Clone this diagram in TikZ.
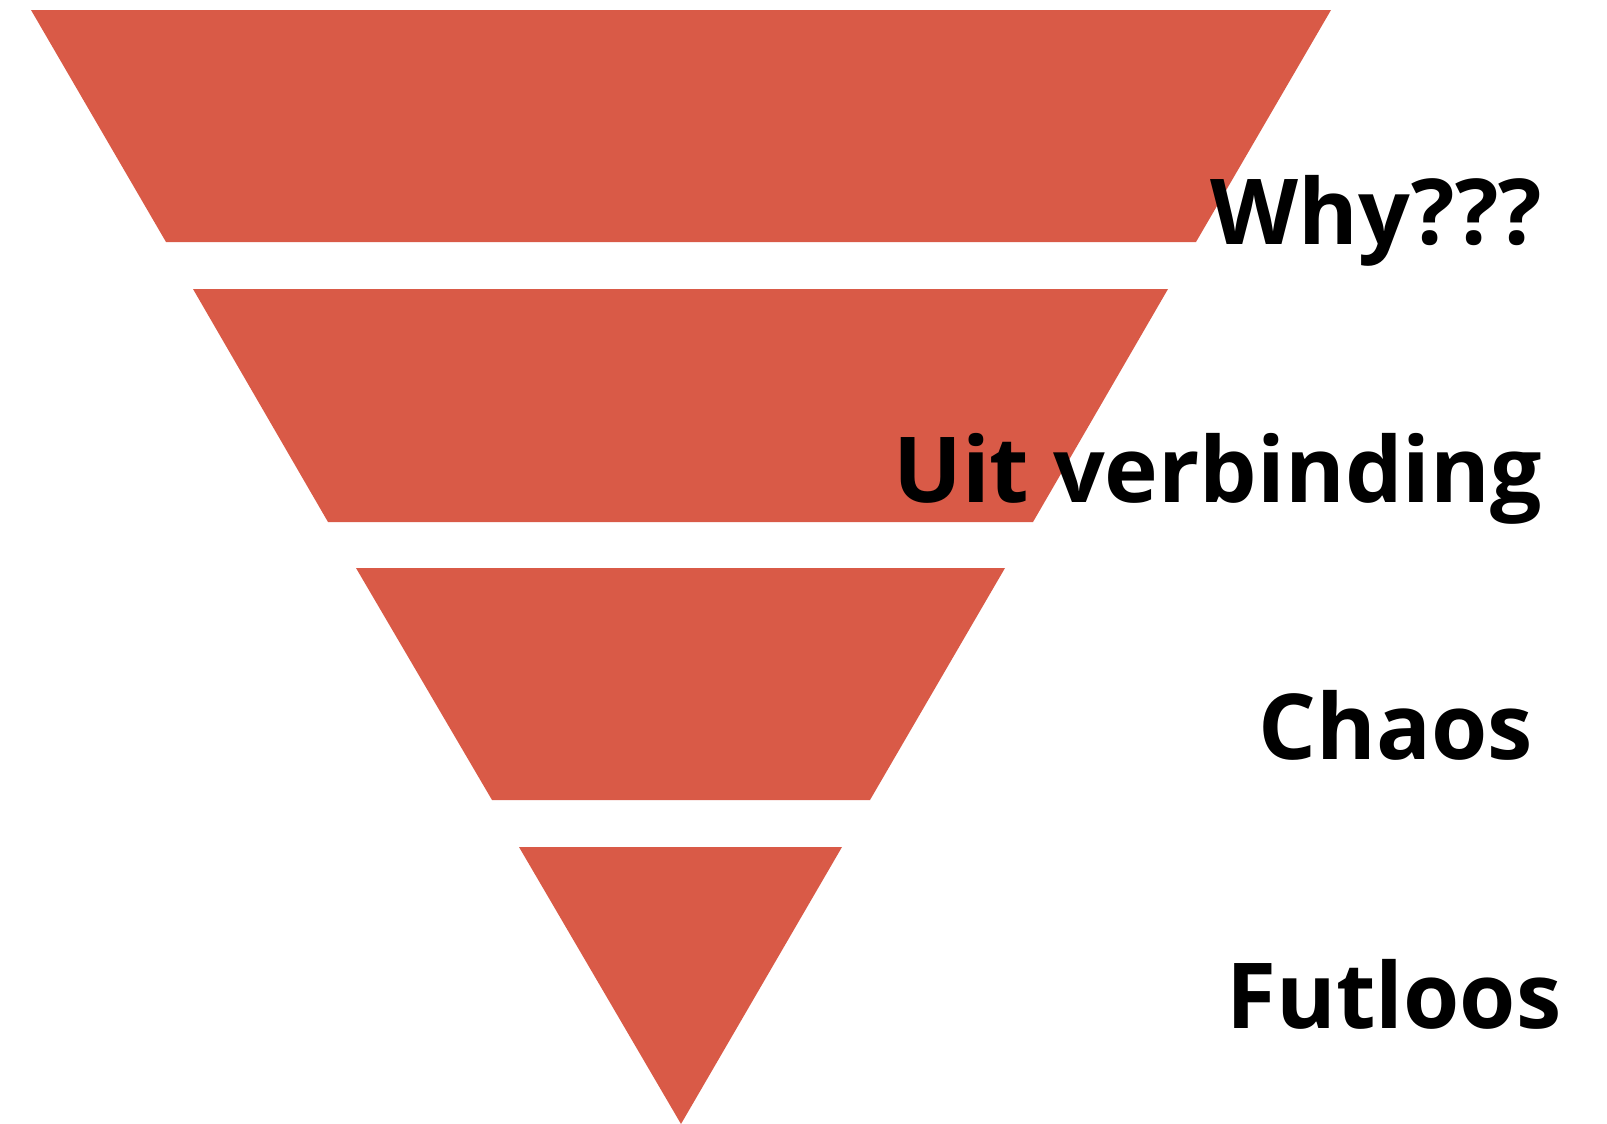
\documentclass[tikz,border=0pt]{standalone}
\usepackage{fontspec}
\setmainfont{Open Sans}
\definecolor{funnel}{HTML}{D95A47}

\begin{document}
\begin{tikzpicture}[x=0.5pt,y=-0.5pt,
	label/.style={anchor=base west,inner sep=0pt,font=\fontsize{45.5}{50}\selectfont\bfseries}]
	\useasboundingbox (0,0) rectangle (1607,1124);
	% funnel parts
	\coordinate (A1) at (31,10);   \coordinate (B1) at (1331,10);
	\coordinate (C1) at (1196,242); \coordinate (D1) at (166,242);
	\coordinate (A2) at (193,289);  \coordinate (B2) at (1168,289);
	\coordinate (C2) at (1033,522); \coordinate (D2) at (328,522);
	\coordinate (A3) at (356,568);  \coordinate (B3) at (1005,568);
	\coordinate (C3) at (870,800);  \coordinate (D3) at (492,800);
	\coordinate (A4) at (519,847);  \coordinate (B4) at (842,847);
	\coordinate (C4) at (681,1124);
	\fill[funnel] (A1) -- (B1) -- (C1) -- (D1) -- cycle;
	\fill[funnel] (A2) -- (B2) -- (C2) -- (D2) -- cycle;
	\fill[funnel] (A3) -- (B3) -- (C3) -- (D3) -- cycle;
	\fill[funnel] (A4) -- (B4) -- (C4) -- cycle;
	% labels
	\node[label] (why) at (1210,244) {Why???};
	\node[label] (uit) at (893,502) {Uit verbinding};
	\node[label] (chaos) at (1258,759) {Chaos};
	\node[label] (futloos) at (1226,1028) {Futloos};

\end{tikzpicture}
\end{document}
